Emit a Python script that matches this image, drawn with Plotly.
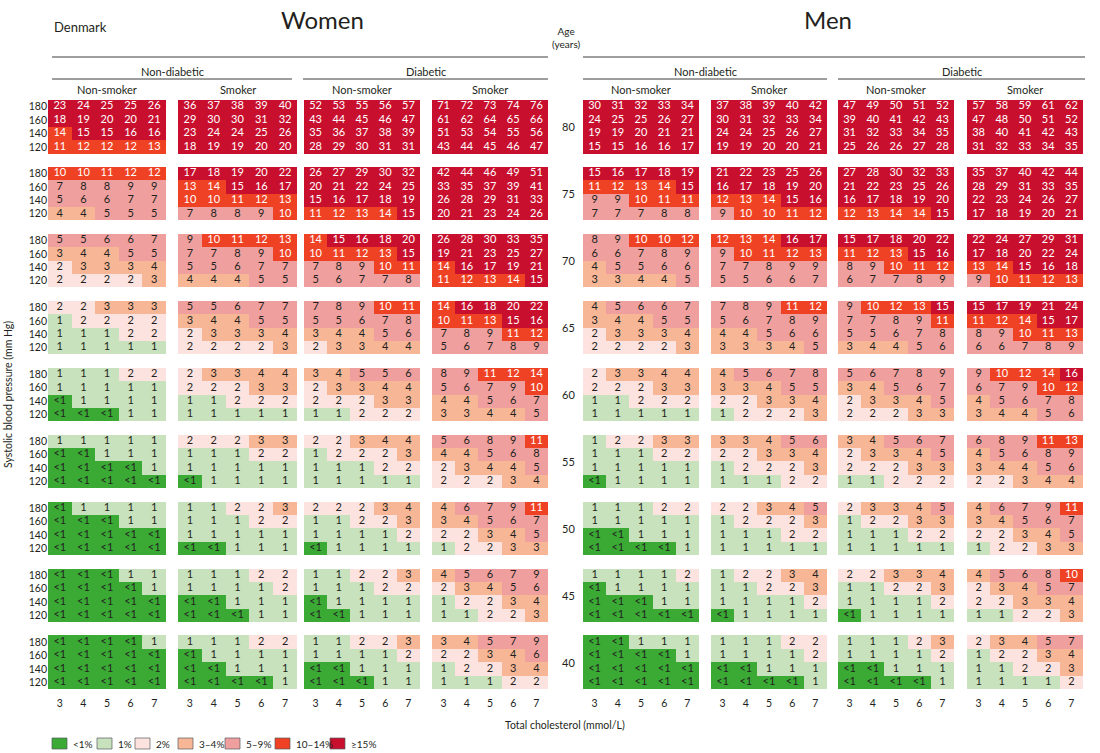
import plotly.graph_objects as go

# ---------------- data ----------------
ages = [80, 75, 70, 65, 60, 55, 50, 45, 40]
sbp_labels = ["180", "160", "140", "120"]
cholesterol = [3, 4, 5, 6, 7]

women_nondiab_nonsmoker = [
    ["23 24 25 25 26", "18 19 20 20 21", "14 15 15 16 16", "11 12 12 12 13"],
    ["10 10 11 12 12", "7 8 8 9 9", "5 6 6 7 7", "4 4 5 5 5"],
    ["5 5 6 6 7", "3 4 4 5 5", "2 3 3 3 4", "2 2 2 2 3"],
    ["2 2 3 3 3", "1 2 2 2 2", "1 1 1 2 2", "1 1 1 1 1"],
    ["1 1 1 2 2", "1 1 1 1 1", "<1 1 1 1 1", "<1 <1 <1 1 1"],
    ["1 1 1 1 1", "<1 <1 1 1 1", "<1 <1 <1 <1 1", "<1 <1 <1 <1 <1"],
    ["<1 1 1 1 1", "<1 <1 <1 1 1", "<1 <1 <1 <1 <1", "<1 <1 <1 <1 <1"],
    ["<1 <1 <1 1 1", "<1 <1 <1 <1 1", "<1 <1 <1 <1 <1", "<1 <1 <1 <1 <1"],
    ["<1 <1 <1 <1 1", "<1 <1 <1 <1 <1", "<1 <1 <1 <1 <1", "<1 <1 <1 <1 <1"],
]
women_nondiab_smoker = [
    ["36 37 38 39 40", "29 30 30 31 32", "23 24 24 25 26", "18 19 19 20 20"],
    ["17 18 19 20 22", "13 14 15 16 17", "10 10 11 12 13", "7 8 8 9 10"],
    ["9 10 11 12 13", "7 7 8 9 10", "5 5 6 7 7", "4 4 4 5 5"],
    ["5 5 6 7 7", "3 4 4 5 5", "2 3 3 3 4", "2 2 2 2 3"],
    ["2 3 3 4 4", "2 2 2 3 3", "1 1 2 2 2", "1 1 1 1 1"],
    ["2 2 2 3 3", "1 1 1 2 2", "1 1 1 1 1", "<1 1 1 1 1"],
    ["1 1 2 2 3", "1 1 1 2 2", "1 1 1 1 1", "<1 <1 1 1 1"],
    ["1 1 1 2 2", "1 1 1 1 2", "<1 <1 1 1 1", "<1 <1 <1 1 1"],
    ["1 1 1 2 2", "<1 1 1 1 1", "<1 <1 1 1 1", "<1 <1 <1 <1 1"],
]
women_diab_nonsmoker = [
    ["52 53 55 56 57", "43 44 45 46 47", "35 36 37 38 39", "28 29 30 31 31"],
    ["26 27 29 30 32", "20 21 22 24 25", "15 16 17 18 19", "11 12 13 14 15"],
    ["14 15 16 18 20", "10 11 12 13 15", "7 8 9 10 11", "5 6 7 7 8"],
    ["7 8 9 10 11", "5 5 6 7 8", "3 4 4 5 6", "2 3 3 4 4"],
    ["3 4 5 5 6", "2 3 3 4 4", "2 2 2 3 3", "1 1 2 2 2"],
    ["2 2 3 4 4", "1 2 2 2 3", "1 1 1 2 2", "1 1 1 1 1"],
    ["2 2 2 3 4", "1 1 2 2 3", "1 1 1 1 2", "<1 1 1 1 1"],
    ["1 1 2 2 3", "1 1 1 2 2", "<1 1 1 1 1", "<1 <1 1 1 1"],
    ["1 1 2 2 3", "1 1 1 1 2", "<1 <1 1 1 1", "<1 <1 <1 1 1"],
]
women_diab_smoker = [
    ["71 72 73 74 76", "61 62 64 65 66", "51 53 54 55 56", "43 44 45 46 47"],
    ["42 44 46 49 51", "33 35 37 39 41", "26 28 29 31 33", "20 21 23 24 26"],
    ["26 28 30 33 35", "19 21 23 25 27", "14 16 17 19 21", "11 12 13 14 15"],
    ["14 16 18 20 22", "10 11 13 15 16", "7 8 9 11 12", "5 6 7 8 9"],
    ["8 9 11 12 14", "5 6 7 9 10", "4 4 5 6 7", "3 3 4 4 5"],
    ["5 6 8 9 11", "4 4 5 6 8", "2 3 4 4 5", "2 2 2 3 4"],
    ["4 6 7 9 11", "3 4 5 6 7", "2 2 3 4 5", "1 2 2 3 3"],
    ["4 5 6 7 9", "2 3 4 5 6", "1 2 2 3 4", "1 1 2 2 3"],
    ["3 4 5 7 9", "2 2 3 4 6", "1 2 2 3 4", "1 1 1 2 2"],
]
men_nondiab_nonsmoker = [
    ["30 31 32 33 34", "24 25 25 26 27", "19 19 20 21 21", "15 15 16 16 17"],
    ["15 16 17 18 19", "11 12 13 14 15", "9 9 10 11 11", "7 7 7 8 8"],
    ["8 9 10 10 12", "6 6 7 8 9", "4 5 5 6 6", "3 3 4 4 5"],
    ["4 5 6 6 7", "3 4 4 5 5", "2 3 3 3 4", "2 2 2 2 3"],
    ["2 3 3 4 4", "2 2 2 3 3", "1 1 2 2 2", "1 1 1 1 1"],
    ["1 2 2 3 3", "1 1 1 2 2", "1 1 1 1 1", "<1 1 1 1 1"],
    ["1 1 1 2 2", "1 1 1 1 1", "<1 <1 1 1 1", "<1 <1 <1 <1 1"],
    ["1 1 1 1 2", "<1 1 1 1 1", "<1 <1 <1 1 1", "<1 <1 <1 <1 <1"],
    ["<1 <1 1 1 1", "<1 <1 <1 <1 1", "<1 <1 <1 <1 <1", "<1 <1 <1 <1 <1"],
]
men_nondiab_smoker = [
    ["37 38 39 40 42", "30 31 32 33 34", "24 24 25 26 27", "19 19 20 20 21"],
    ["21 22 23 25 26", "16 17 18 19 20", "12 13 14 15 16", "9 10 10 11 12"],
    ["12 13 14 16 17", "9 10 11 12 13", "7 7 8 9 9", "5 5 6 6 7"],
    ["7 8 9 11 12", "5 6 7 8 9", "4 4 5 6 6", "3 3 3 4 5"],
    ["4 5 6 7 8", "3 3 4 5 5", "2 2 3 3 4", "1 2 2 2 3"],
    ["3 3 4 5 6", "2 2 3 3 4", "1 2 2 2 3", "1 1 1 2 2"],
    ["2 2 3 4 5", "1 2 2 2 3", "1 1 1 2 2", "1 1 1 1 1"],
    ["1 2 2 3 4", "1 1 2 2 3", "1 1 1 1 2", "<1 1 1 1 1"],
    ["1 1 1 2 2", "1 1 1 1 2", "<1 <1 1 1 1", "<1 <1 <1 <1 1"],
]
men_diab_nonsmoker = [
    ["47 49 50 51 52", "39 40 41 42 43", "31 32 33 34 35", "25 26 26 27 28"],
    ["27 28 30 32 33", "21 22 23 25 26", "16 17 18 19 20", "12 13 14 14 15"],
    ["15 17 18 20 22", "11 12 13 15 16", "8 9 10 11 12", "6 7 7 8 9"],
    ["9 10 12 13 15", "7 7 8 9 11", "5 5 6 7 8", "3 4 4 5 6"],
    ["5 6 7 8 9", "3 4 5 6 7", "2 3 3 4 5", "2 2 2 3 3"],
    ["3 4 5 6 7", "2 3 3 4 5", "2 2 2 3 3", "1 1 2 2 2"],
    ["2 3 3 4 5", "1 2 2 3 3", "1 1 1 2 2", "1 1 1 1 1"],
    ["2 2 3 3 4", "1 1 2 2 3", "1 1 1 1 2", "<1 1 1 1 1"],
    ["1 1 1 2 3", "1 1 1 1 2", "<1 <1 1 1 1", "<1 <1 <1 <1 1"],
]
men_diab_smoker = [
    ["57 58 59 61 62", "47 48 50 51 52", "38 40 41 42 43", "31 32 33 34 35"],
    ["35 37 40 42 44", "28 29 31 33 35", "22 23 24 26 27", "17 18 19 20 21"],
    ["22 24 27 29 31", "17 18 20 22 24", "13 14 15 16 18", "9 10 11 12 13"],
    ["15 17 19 21 24", "11 12 14 15 17", "8 9 10 11 13", "6 6 7 8 9"],
    ["9 10 12 14 16", "6 7 9 10 12", "4 5 6 7 8", "3 4 4 5 6"],
    ["6 8 9 11 13", "4 5 6 8 9", "3 4 4 5 6", "2 2 3 4 4"],
    ["4 6 7 9 11", "3 4 5 6 7", "2 2 3 4 5", "1 2 2 3 3"],
    ["4 5 6 8 10", "2 3 4 5 7", "2 2 3 3 4", "1 1 2 2 3"],
    ["2 3 4 5 7", "1 2 2 3 4", "1 1 2 2 3", "1 1 1 1 2"],
]

risk_labels = ["<1%", "1%", "2%", "3\u20134%", "5\u20139%", "10\u201314%", "\u226515%"]
risk_colors = ["#3aaa35", "#c8e2bd", "#fde3df", "#f7b797", "#efa09e", "#ef4123", "#c8102e"]

# ---------------- layout helpers ----------------
W, H = 1100, 753
FONT = "Lato"
TXT = "#231f20"

def fx(p):
    return p / W

def fy(p):
    return 1 - p / H

def category(s):
    if s == "<1":
        return 0
    v = int(s)
    if v <= 1:
        return 1
    if v == 2:
        return 2
    if v <= 4:
        return 3
    if v <= 9:
        return 4
    if v <= 14:
        return 5
    return 6

panels = [
    (women_nondiab_nonsmoker, 48, 166),
    (women_nondiab_smoker, 178, 297),
    (women_diab_nonsmoker, 304, 420),
    (women_diab_smoker, 432, 548),
    (men_nondiab_nonsmoker, 583, 699),
    (men_nondiab_smoker, 711, 827),
    (men_diab_nonsmoker, 838, 954),
    (men_diab_smoker, 967, 1083),
]

n = len(risk_colors)
colorscale = []
for i, c in enumerate(risk_colors):
    colorscale.append([i / n, c])
    colorscale.append([(i + 1) / n, c])

nrows = len(ages) * 5 - 1
fig = go.Figure()
layout = dict()

for k, (data, x0, x1) in enumerate(panels):
    xa = "x" if k == 0 else f"x{k + 1}"
    z = [[None] * len(cholesterol) for _ in range(nrows)]
    tx, ty, tt, tc = [], [], [], []
    for a, block in enumerate(data):
        for r, line in enumerate(block):
            yi = a * 5 + r
            for c, v in enumerate(line.split()):
                cat = category(v)
                z[yi][c] = cat
                tx.append(cholesterol[c])
                ty.append(yi)
                tt.append(v)
                tc.append("#ffffff" if cat >= 5 else TXT)
    fig.add_trace(go.Heatmap(
        x=cholesterol, y=list(range(nrows)), z=z, xaxis=xa, yaxis="y",
        colorscale=colorscale, zmin=-0.5, zmax=n - 0.5, showscale=False,
        hoverinfo="skip"))
    fig.add_trace(go.Scatter(
        x=tx, y=ty, text=tt, mode="text", xaxis=xa, yaxis="y",
        textfont=dict(color=tc, size=11, family=FONT),
        showlegend=False, hoverinfo="skip"))
    key = "xaxis" if k == 0 else f"xaxis{k + 1}"
    layout[key] = dict(
        domain=[fx(x0), fx(x1)], range=[2.5, 7.5], anchor="y",
        tickvals=cholesterol, ticks="", showgrid=False, zeroline=False,
        showline=False, tickfont=dict(size=10.5, family=FONT, color=TXT),
        ticklabelstandoff=6, fixedrange=True)

tickvals = [a * 5 + r for a in range(len(ages)) for r in range(4)]
ticktext = [sbp_labels[r] for a in range(len(ages)) for r in range(4)]
layout["yaxis"] = dict(
    domain=[fy(689), fy(100)], range=[nrows - 0.5, -0.5], anchor="x",
    tickvals=tickvals, ticktext=ticktext, ticks="", showgrid=False,
    zeroline=False, showline=False,
    tickfont=dict(size=10.5, family=FONT, color=TXT), fixedrange=True)

ann = []
def add_text(text, x, y, size=11, xanchor="center", **kw):
    ann.append(dict(text=text, x=x, y=y, xref="paper", yref="paper",
                    showarrow=False, xanchor=xanchor, yanchor="middle",
                    font=dict(size=size, family=FONT, color=TXT), **kw))

add_text("Denmark", fx(52), fy(27), size=13, xanchor="left")
add_text("Women", fx(322), fy(20), size=24)
add_text("Men", fx(828), fy(20), size=24)
add_text("Age<br>(years)", fx(566), fy(38), size=10)
for c0, c1, lab in [(52, 292, "Non-diabetic"), (303, 548, "Diabetic"),
                    (583, 827, "Non-diabetic"), (838, 1085, "Diabetic")]:
    add_text(lab, fx((c0 + c1) / 2), fy(71), size=11)
for k, (data, x0, x1) in enumerate(panels):
    add_text("Non-smoker" if k % 2 == 0 else "Smoker", fx((x0 + x1) / 2), fy(89), size=11)
add_text("Total cholesterol (mmol/L)", fx(565), fy(725), size=10.5)
add_text("Systolic blood pressure (mm Hg)", fx(8), fy(395), size=10.5, textangle=-90)

for a, age in enumerate(ages):
    ann.append(dict(text=str(age), x=fx(568), y=a * 5 + 1.5, xref="paper", yref="y",
                    showarrow=False, font=dict(size=11, family=FONT, color=TXT)))

shapes = []
for x0, x1, y in [(52, 548, 57), (583, 1085, 57), (52, 292, 79), (303, 548, 79),
                  (583, 827, 79), (838, 1085, 79)]:
    shapes.append(dict(type="line", xref="paper", yref="paper",
                       x0=fx(x0), x1=fx(x1), y0=fy(y), y1=fy(y),
                       line=dict(color="#3c3c3c", width=1)))

# legend key (boxes + labels along the bottom)
legend_box_left = [52, 97, 135, 178, 225, 275, 330]
for bx, lab, col in zip(legend_box_left, risk_labels, risk_colors):
    shapes.append(dict(type="rect", xref="paper", yref="paper",
                       x0=fx(bx), x1=fx(bx + 15), y0=fy(749), y1=fy(738),
                       fillcolor=col, line=dict(color="#58595b", width=0.7)))
    add_text(lab, fx(bx + 19), fy(743.5), size=10, xanchor="left")

fig.update_layout(
    **layout,
    width=W, height=H, margin=dict(l=0, r=0, t=0, b=0),
    paper_bgcolor="white", plot_bgcolor="white",
    annotations=ann, shapes=shapes,
    font=dict(family=FONT, color=TXT),
    showlegend=False,
    hovermode=False,
)

fig.write_html("out.html", config={"displayModeBar": False},
               post_script="document.body.style.margin='0';document.body.style.padding='0';")
